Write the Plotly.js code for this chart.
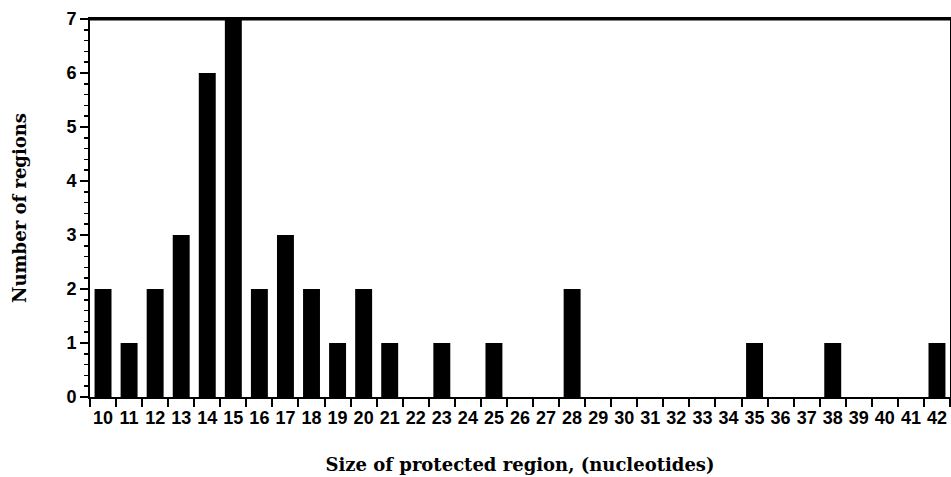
<!DOCTYPE html>
<html>
<head>
<meta charset="utf-8">
<script src="https://cdn.plot.ly/plotly-3.0.1.min.js"></script>
<style>html,body{margin:0;padding:0;background:#fff;}#chart{width:951px;height:477px;}</style>
</head>
<body>
<div id="chart"></div>
<script>
const sizes = ['10','11','12','13','14','15','16','17','18','19','20','21','22','23','24','25','26','27','28','29','30','31','32','33','34','35','36','37','38','39','40','41','42'];
const counts = [2,1,2,3,6,7,2,3,2,1,2,1,0,1,0,1,0,0,2,0,0,0,0,0,0,1,0,0,1,0,0,0,1];
const yTicks = [0,1,2,3,4,5,6,7];

const trace = {
  type: 'bar',
  x: sizes,
  y: counts,
  marker: {color: '#000000', line: {width: 0}},
  hoverinfo: 'x+y'
};

const layout = {
  width: 951,
  height: 477,
  margin: {l: 90, r: 1, t: 19, b: 80},
  paper_bgcolor: '#ffffff',
  plot_bgcolor: '#ffffff',
  bargap: 0.35,
  showlegend: false,
  font: {family: '"Liberation Sans", Arial, sans-serif', color: '#000'},
  shapes: [{type: 'line', xref: 'paper', yref: 'paper', x0: 0, x1: 1, y0: 1, y1: 1,
            line: {color: '#000', width: 3}}],
  xaxis: {
    type: 'category',
    tickson: 'boundaries',
    tickangle: 0,
    ticks: 'outside',
    ticklen: 8,
    tickwidth: 2,
    tickcolor: '#000',
    ticklabelstandoff: 3,
    showline: true,
    linewidth: 2,
    linecolor: '#000',
    mirror: true,
    showgrid: false,
    zeroline: false,
    tickfont: {size: 18, family: '"Liberation Sans", Arial, sans-serif', weight: 'bold', color: '#000'},
    title: {text: 'Size of protected region, (nucleotides)', standoff: 32,
      font: {size: 18, family: '"DejaVu Serif", "Liberation Serif", serif', weight: 'bold', color: '#000'}}
  },
  yaxis: {
    range: [0, 7],
    tickvals: yTicks,
    ticktext: yTicks.map(String),
    ticks: 'outside',
    ticklen: 8,
    tickwidth: 2,
    tickcolor: '#000',
    minor: {dtick: 0.2, ticks: 'outside', ticklen: 4, tickwidth: 1.5, tickcolor: '#000', showgrid: false},
    showline: true,
    linewidth: 2,
    linecolor: '#000',
    mirror: true,
    showgrid: false,
    zeroline: false,
    tickfont: {size: 18, family: '"Liberation Sans", Arial, sans-serif', weight: 'bold', color: '#000'},
    title: {text: 'Number of regions', standoff: 35,
      font: {size: 18, family: '"DejaVu Serif", "Liberation Serif", serif', weight: 'bold', color: '#000'}}
  }
};

Plotly.newPlot('chart', [trace], layout, {displayModeBar: false, staticPlot: true});
</script>
</body>
</html>
